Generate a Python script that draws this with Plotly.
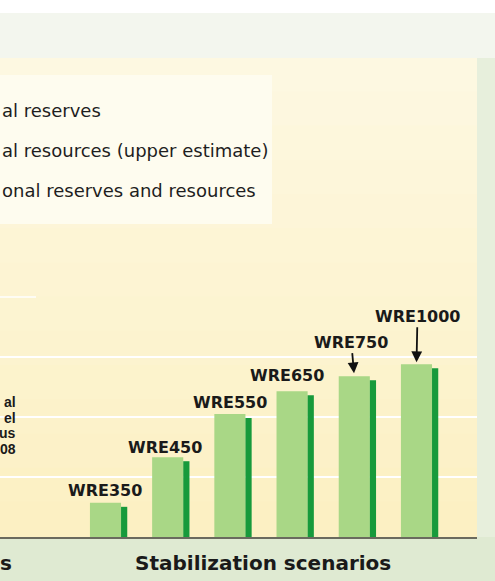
import plotly.graph_objects as go

# ---- data ----
scenarios = ["WRE350", "WRE450", "WRE550", "WRE650", "WRE750", "WRE1000"]
emissions = [570, 1330, 2050, 2430, 2680, 2880]   # cumulative emissions (arbitrary units)
legend_texts = ["al reserves", "al resources (upper estimate)", "onal reserves and resources"]
left_lines = ["al", "el", "us", "08"]
x_title = "Stabilization scenarios"
left_title_tail = "s"

W, H = 495, 581
L, R, T, B = 0, 18, 58, 44
PW, PH = W - L - R, H - T - B
YMAX = 7983

def px_x(p):
    return (p - L) / PW

def px_y(p):
    return (H - B - p) / PH

fig = go.Figure()

fig.add_trace(go.Bar(
    x=scenarios, y=emissions, width=0.5, offset=-0.25,
    marker=dict(color="#a9d786", line=dict(width=0)), hoverinfo="skip"))
fig.add_trace(go.Bar(
    x=scenarios, y=emissions, base=-67, width=0.1, offset=0.25,
    marker=dict(color="#179a3b", line=dict(width=0)), hoverinfo="skip"))

shapes = []
# top white band
shapes.append(dict(type="rect", xref="paper", yref="paper", x0=-0.1, x1=1.2,
                   y0=px_y(13), y1=1.3, fillcolor="#ffffff", line_width=0, layer="below"))
# cream plot area gradient
top_c = (253, 248, 226)
bot_c = (252, 240, 194)
n = 14
for i in range(n):
    y0p = T + PH * i / n
    y1p = T + PH * (i + 1) / n
    f = (i + 0.5) / n
    c = tuple(int(round(top_c[k] + (bot_c[k] - top_c[k]) * f)) for k in range(3))
    shapes.append(dict(type="rect", xref="paper", yref="paper", x0=0, x1=1,
                       y0=px_y(y1p), y1=px_y(y0p) + (0.002 if i else 0),
                       fillcolor="rgb(%d,%d,%d)" % c, line_width=0, layer="below"))
# right green band
shapes.append(dict(type="rect", xref="paper", yref="paper", x0=1.0, x1=1.1,
                   y0=-0.2, y1=1.0, fillcolor="#e7efdc", line_width=0, layer="below"))
# bottom green band
shapes.append(dict(type="rect", xref="paper", yref="paper", x0=-0.1, x1=1.1,
                   y0=-0.2, y1=0, fillcolor="#dfead2", line_width=0, layer="below"))
# legend box
shapes.append(dict(type="rect", xref="paper", yref="paper", x0=-0.01, x1=px_x(272),
                   y0=px_y(224), y1=px_y(75), fillcolor="#fefcef", line_width=0, layer="below"))
# short gridline
shapes.append(dict(type="line", xref="paper", yref="y", x0=0, x1=px_x(36),
                   y0=4000, y1=4000, line=dict(color="#ffffff", width=1.5), layer="below"))

annotations = []
label_style = [(0, 12), (-3, 10), (0, 11), (-5, 16)]
for i, (s, v) in enumerate(zip(scenarios, emissions)):
    if i < 4:
        xs, ys = label_style[i]
        annotations.append(dict(x=s, y=v, xref="x", yref="y", text="<b>%s</b>" % s,
                                showarrow=False, xshift=xs, yshift=ys, yanchor="middle",
                                font=dict(family="DejaVu Sans", size=16, color="#1a1a1a")))
arrow_style = {4: (-3, -34, 3), 5: (1, -48, 2)}
for i, (ax, ay, so) in arrow_style.items():
    annotations.append(dict(x=scenarios[i], y=emissions[i], xref="x", yref="y",
                            text="<b>%s</b>" % scenarios[i], showarrow=True, ax=ax, ay=ay,
                            arrowhead=2, arrowsize=1.2, arrowwidth=1.8, arrowcolor="#111111",
                            standoff=so, font=dict(family="DejaVu Sans", size=16, color="#1a1a1a")))

for j, t in enumerate(legend_texts):
    annotations.append(dict(x=px_x(0), y=px_y(110 + 40 * j), xref="paper", yref="paper",
                            text=t, showarrow=False, xanchor="left", yanchor="middle",
                            font=dict(family="DejaVu Sans", size=18, color="#1e1e1e")))

for j, t in enumerate(left_lines):
    annotations.append(dict(x=px_x(18), y=px_y(402 + 15.7 * j), xref="paper", yref="paper",
                            text="<b>%s</b>" % t, showarrow=False, xanchor="right", yanchor="middle",
                            font=dict(family="Liberation Sans", size=14, color="#1a1a1a")))

annotations.append(dict(x=px_x(262.5), y=px_y(563), xref="paper", yref="paper",
                        text="<b>%s</b>" % x_title, showarrow=False, xanchor="center", yanchor="middle",
                        font=dict(family="DejaVu Sans", size=20, color="#1a1a1a")))
annotations.append(dict(x=px_x(14), y=px_y(563), xref="paper", yref="paper",
                        text="<b>%s</b>" % left_title_tail, showarrow=False, xanchor="right",
                        yanchor="middle", font=dict(family="DejaVu Sans", size=20, color="#1a1a1a")))

fig.update_layout(
    width=W, height=H,
    margin=dict(l=L, r=R, t=T, b=B, pad=0),
    paper_bgcolor="#f3f6ee",
    plot_bgcolor="rgba(0,0,0,0)",
    barmode="overlay",
    showlegend=False,
    shapes=shapes,
    annotations=annotations,
    xaxis=dict(type="category", range=[-1.696, 5.973], showticklabels=False, ticks="",
               showgrid=False, zeroline=False, showline=True, linecolor="#6a6a5e",
               linewidth=1.5, fixedrange=True),
    yaxis=dict(range=[0, YMAX], tickvals=[1000, 2000, 3000], showticklabels=False,
               ticks="", showgrid=True, gridcolor="#ffffff", gridwidth=1.5,
               zeroline=False, showline=False, fixedrange=True),
)

fig.write_html("out.html", config={"displayModeBar": False},
               post_script="document.body.style.margin='0px';document.body.style.overflow='hidden';")
